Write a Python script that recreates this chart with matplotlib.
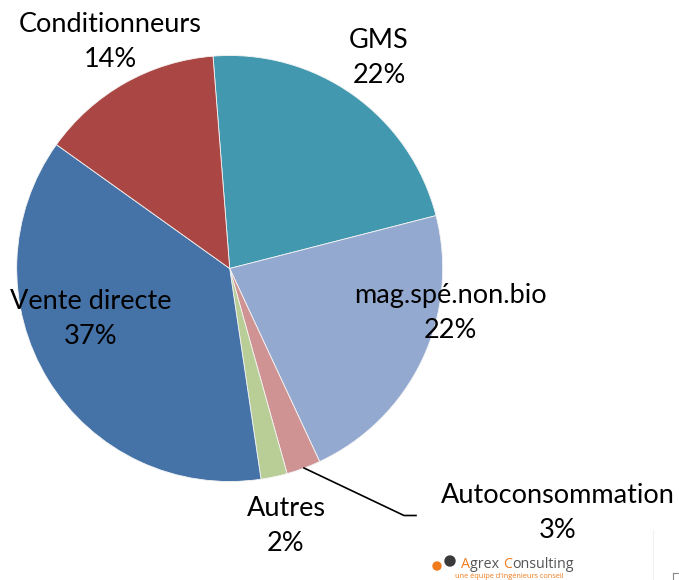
import matplotlib.pyplot as plt
from matplotlib.patches import Circle

# data (clockwise from the top)
categories = ["GMS", "mag.spé.non.bio", "Autoconsommation", "Autres",
              "Vente directe", "Conditionneurs"]
values = [22.3, 22.1, 2.6, 2.0, 37.3, 13.9]
colors = ["#4198AF", "#93A9CF", "#D09393", "#B9CD96", "#4572A7", "#AA4643"]

# label positions in pixels (x centre, baseline of name line)
label_pos = [(379, 48), (450, 303), (558, 503), (286, 516), (91, 309), (110, 32)]

W, H = 679, 580
FONT = "Lato"

fig = plt.figure(figsize=(W / 100, H / 100), dpi=100, facecolor="white")
ax = fig.add_axes([0, 0, 1, 1])

# pie centre / radius in pixels
cx, cy, r = 229.7, H - 268.5, 213
ax.pie(values, colors=colors, startangle=94.5, counterclock=False,
       center=(cx, cy), radius=r,
       wedgeprops=dict(edgecolor="#f4f4f4", linewidth=0.6))

ax.set_xlim(0, W)
ax.set_ylim(0, H)
ax.set_aspect("equal")
ax.axis("off")

total = sum(values)
for name, v, (x, y) in zip(categories, values, label_pos):
    ax.text(x, H - y, name, ha="center", va="baseline",
            fontsize=19.5, family=FONT, color="black")
    ax.text(x, H - y - 35, f"{round(v / total * 100):.0f}%", ha="center",
            va="baseline", fontsize=19.5, family=FONT, color="black")

# leader line for Autoconsommation
ax.plot([304, 404, 416], [H - 468, H - 515.5, H - 515.5], color="black", lw=1.2)

# logo
ax.add_patch(Circle((437, H - 566), 4, color="#F07C1E"))
ax.add_patch(Circle((450, H - 561), 5, color="#3a3a3a"))
parts = [("A", "#F07C1E"), ("grex ", "#555555"), ("C", "#F07C1E"),
         ("onsulting", "#555555")]
prev = ax.text(461, H - 568, parts[0][0], fontsize=10.3, family="Open Sans",
               color=parts[0][1], va="baseline", ha="left")
for txt, col in parts[1:]:
    prev = ax.annotate(txt, xy=(1, 0), xycoords=prev, va="bottom", ha="left",
                       fontsize=10.3, family="Open Sans", color=col)
ax.text(455, H - 578.5, "une équipe d'ingénieurs conseil", fontsize=5.3,
        family="Open Sans", color="#F07C1E", va="baseline", ha="left")

# faint frame bits at bottom right
ax.plot([653, 653], [H - 530, 0], color="#f2f2f2", lw=0.8)
ax.plot([673, 679], [H - 573, H - 573], color="#888888", lw=0.8)
ax.plot([673, 673], [H - 573, H - 580], color="#888888", lw=0.8)

fig.savefig("out.png", dpi=100, facecolor="white")
